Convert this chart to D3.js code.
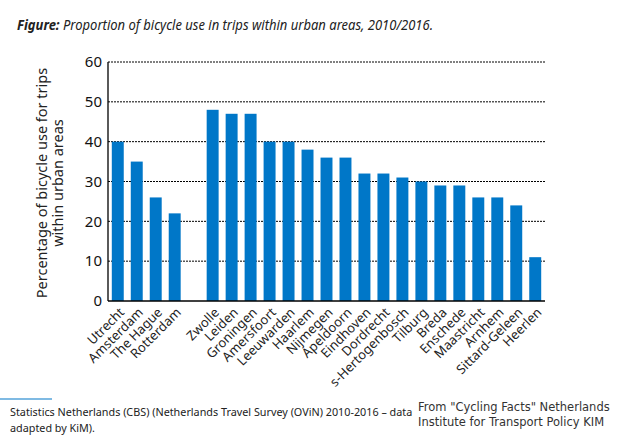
<!DOCTYPE html>
<html>
<head>
<meta charset="utf-8">
<script src="https://cdn.jsdelivr.net/npm/d3@7"></script>
<style>
  body { margin: 0; background: #fff; }
  svg { display: block; font-family: "Noto Sans", sans-serif; }
</style>
</head>
<body>
<svg width="640" height="439"></svg>
<script>
// city names, "" marks the empty slot between the big four and the rest
const cities = ["Utrecht", "Amsterdam", "The Hague", "Rotterdam", "",
  "Zwolle", "Leiden", "Groningen", "Amersfoort", "Leeuwarden", "Haarlem",
  "Nijmegen", "Apeldoorn", "Eindhoven", "Dordrecht", "s-Hertogenbosch",
  "Tilburg", "Breda", "Enschede", "Maastricht", "Arnhem", "Sittard-Geleen", "Heerlen"];
const shares = [40, 35, 26, 22, null,
  48, 47, 47, 40, 40, 38,
  36, 36, 32, 32, 31,
  30, 29, 29, 26, 26, 24, 11];
const yTicks = [0, 10, 20, 30, 40, 50, 60];

const svg = d3.select("svg");
const plotLeft = 108, plotRight = 545, plotTop = 62, plotBottom = 301;

const x = d3.scaleBand()
  .domain(d3.range(cities.length))
  .range([plotLeft, plotRight])
  .paddingInner(0.37)
  .paddingOuter(0.2);

const y = d3.scaleLinear()
  .domain([0, 60])
  .range([plotBottom, plotTop]);

// title
const title = svg.append("text")
  .attr("x", 17).attr("y", 30)
  .attr("textLength", 416)
  .attr("lengthAdjust", "spacingAndGlyphs")
  .style("font-size", "14px")
  .attr("fill", "#222");
title.append("tspan").attr("font-weight", "bold").attr("font-style", "italic").text("Figure:");
title.append("tspan").attr("font-style", "italic").text(" Proportion of bicycle use in trips within urban areas, 2010/2016.");

// dotted gridlines
svg.append("g")
  .selectAll("line")
  .data(yTicks.filter(d => d > 0))
  .enter()
  .append("line")
  .attr("x1", plotLeft).attr("x2", plotRight)
  .attr("y1", d => y(d)).attr("y2", d => y(d))
  .attr("stroke", "#000")
  .attr("stroke-width", 1)
  .attr("stroke-dasharray", "2,1");

// bars
svg.append("g")
  .selectAll("rect")
  .data(shares.map((v, i) => ({ v: v, i: i })).filter(d => d.v !== null))
  .enter()
  .append("rect")
  .attr("x", d => x(d.i))
  .attr("width", x.bandwidth())
  .attr("y", d => y(d.v))
  .attr("height", d => y(0) - y(d.v))
  .attr("fill", "#0077c8");

// axes lines
svg.append("line")
  .attr("x1", plotLeft).attr("x2", plotLeft)
  .attr("y1", plotTop).attr("y2", plotBottom)
  .attr("stroke", "#000").attr("stroke-width", 1.3);
svg.append("line")
  .attr("x1", plotLeft).attr("x2", plotRight)
  .attr("y1", plotBottom).attr("y2", plotBottom)
  .attr("stroke", "#000").attr("stroke-width", 1.3);

// y tick labels
svg.append("g")
  .selectAll("text")
  .data(yTicks)
  .enter()
  .append("text")
  .attr("x", plotLeft - 6)
  .attr("y", d => y(d))
  .attr("dy", "0.35em")
  .attr("text-anchor", "end")
  .style("font-size", "15px")
  .attr("fill", "#111")
  .text(d => d);

// y axis title
const yl = svg.append("text")
  .attr("transform", "translate(47,183) rotate(-90)")
  .attr("text-anchor", "middle")
  .style("font-size", "14.5px")
  .attr("fill", "#222");
yl.append("tspan").attr("x", 0).attr("dy", 0).text("Percentage of bicycle use for trips");
yl.append("tspan").attr("x", 0).attr("dy", "1.1em").text("within urban areas");

// x labels, rotated
svg.append("g")
  .selectAll("text")
  .data(cities.map((c, i) => ({ c: c, i: i })).filter(d => d.c !== ""))
  .enter()
  .append("text")
  .attr("transform", d => `translate(${x(d.i) + x.bandwidth() / 2 + 4},${plotBottom + 9}) rotate(-45)`)
  .attr("text-anchor", "end")
  .attr("dy", "0.35em")
  .style("font-size", "13px")
  .attr("fill", "#222")
  .text(d => d.c);

// footer
svg.append("line")
  .attr("x1", 0).attr("x2", 52)
  .attr("y1", 399).attr("y2", 399)
  .attr("stroke", "#0077c8").attr("stroke-width", 1.2);
const src = svg.append("text")
  .style("font-size", "10.8px")
  .attr("fill", "#222");
src.append("tspan").attr("x", 10).attr("y", 416).text("Statistics Netherlands (CBS) (Netherlands Travel Survey (OViN) 2010-2016 \u2013 data");
src.append("tspan").attr("x", 10).attr("y", 432).text("adapted by KiM).");

const credit = svg.append("text")
  .style("font-family", "'DejaVu Sans', sans-serif")
  .style("font-size", "11.5px")
  .style("font-weight", "normal")
  .attr("fill", "#333");
credit.append("tspan").attr("x", 418).attr("y", 411).text("From \"Cycling Facts\" Netherlands");
credit.append("tspan").attr("x", 418).attr("y", 426).text("Institute for Transport Policy KIM");
</script>
</body>
</html>
